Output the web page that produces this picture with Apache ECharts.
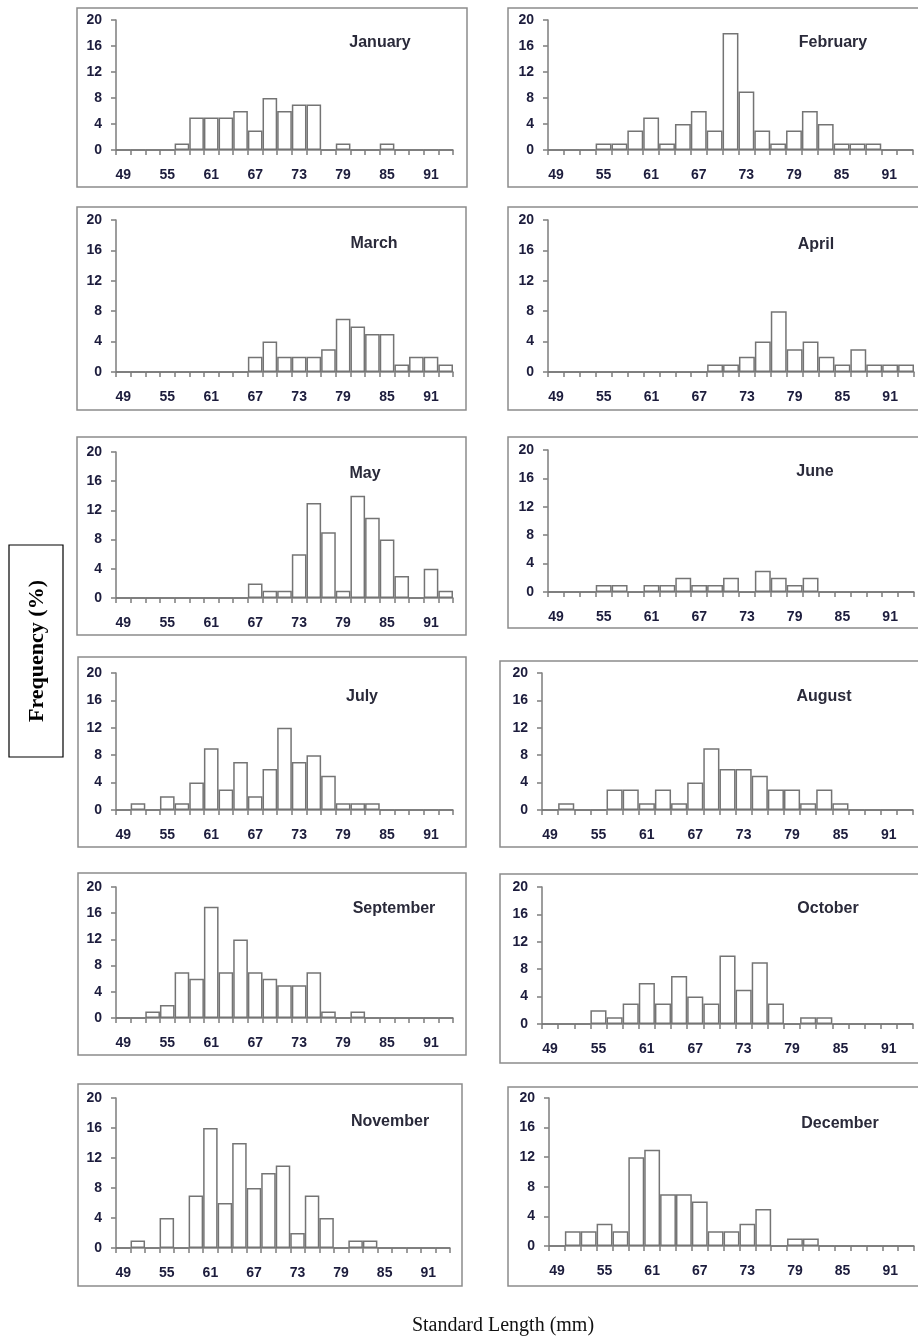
<!DOCTYPE html>
<html>
<head>
<meta charset="utf-8">
<script src="https://cdn.jsdelivr.net/npm/echarts@6/dist/echarts.min.js"></script>
<style>
html,body{margin:0;padding:0;background:#fff;}
#c{width:918px;height:1339px;}
</style>
</head>
<body>
<div id="c"></div>
<script>
// ---- DATA ----
const categories = ['49','51','53','55','57','59','61','63','65','67','69','71','73','75','77','79','81','83','85','87','89','91','93'];
const yTicks = [0, 4, 8, 12, 16, 20];
const months = ['January','February','March','April','May','June','July','August','September','October','November','December'];
const january   = [0,0,0,0,1,5,5,5,6,3,8,6,7,7,0,1,0,0,1,0,0,0,0];
const february  = [0,0,0,1,1,3,5,1,4,6,3,18,9,3,1,3,6,4,1,1,1,0,0];
const march     = [0,0,0,0,0,0,0,0,0,2,4,2,2,2,3,7,6,5,5,1,2,2,1];
const april     = [0,0,0,0,0,0,0,0,0,0,1,1,2,4,8,3,4,2,1,3,1,1,1];
const may       = [0,0,0,0,0,0,0,0,0,2,1,1,6,13,9,1,14,11,8,3,0,4,1];
const june      = [0,0,0,1,1,0,1,1,2,1,1,2,0,3,2,1,2,0,0,0,0,0,0];
const july      = [0,1,0,2,1,4,9,3,7,2,6,12,7,8,5,1,1,1,0,0,0,0,0];
const august    = [0,1,0,0,3,3,1,3,1,4,9,6,6,5,3,3,1,3,1,0,0,0,0];
const september = [0,0,1,2,7,6,17,7,12,7,6,5,5,7,1,0,1,0,0,0,0,0,0];
const october   = [0,0,0,2,1,3,6,3,7,4,3,10,5,9,3,0,1,1,0,0,0,0,0];
const november  = [0,1,0,4,0,7,16,6,14,8,10,11,2,7,4,0,1,1,0,0,0,0,0];
const december  = [0,2,2,3,2,12,13,7,7,6,2,2,3,5,0,1,1,0,0,0,0,0,0];
const seriesData = [january,february,march,april,may,june,july,august,september,october,november,december];
const yLabel = 'Frequency (%)';
const xLabel = 'Standard Length (mm)';

// ---- LAYOUT (positions only) ----
// plot area: [left, right, top(=20), bottom(=0)], box: [x1,y1,x2,y2], title: [x,y]
const layout = [
  {g:[116,453,20,150],  b:[77,8,467,187],     t:[380,43]},
  {g:[548,913,20,150],  b:[508,8,925,187],    t:[833,43]},
  {g:[116,453,220,372], b:[77,207,466,410],   t:[374,244]},
  {g:[548,914,220,372], b:[508,207,925,410],  t:[816,245]},
  {g:[116,453,452,598], b:[77,437,466,635],   t:[365,474]},
  {g:[548,914,450,592], b:[508,437,925,628],  t:[815,472]},
  {g:[116,453,673,810], b:[78,657,466,847],   t:[362,697]},
  {g:[542,913,673,810], b:[500,661,925,847],  t:[824,697]},
  {g:[116,453,887,1018],b:[78,873,466,1055],  t:[394,909]},
  {g:[542,913,887,1024],b:[500,874,925,1063], t:[828,909]},
  {g:[116,450,1098,1248],b:[78,1084,462,1286],t:[390,1122]},
  {g:[549,914,1098,1246],b:[508,1087,925,1286],t:[840,1124]}
];

const W = 918, H = 1339;
const axisColor = '#858585';
const labelColor = '#1c1c3c';
const labelFont = {fontFamily:'Liberation Sans', fontWeight:'bold', fontSize:14, color:labelColor};

const grids = [], xAxes = [], yAxes = [], series = [], graphics = [];
layout.forEach((L, i) => {
  grids.push({left:L.g[0], right:W - L.g[1], top:L.g[2], height:L.g[3]-L.g[2], containLabel:false});
  xAxes.push({
    type:'category', gridIndex:i, data:categories, boundaryGap:true,
    axisLine:{show:true, lineStyle:{color:axisColor, width:1.6}},
    axisTick:{show:true, interval:0, length:5, alignWithLabel:false, lineStyle:{color:axisColor, width:1.6}},
    axisLabel:Object.assign({interval:2, margin:18}, labelFont),
    splitLine:{show:false}
  });
  yAxes.push({
    type:'value', gridIndex:i, min:yTicks[0], max:yTicks[yTicks.length-1], interval:yTicks[1]-yTicks[0],
    axisLine:{show:true, lineStyle:{color:axisColor, width:1.6}},
    axisTick:{show:true, length:5, lineStyle:{color:axisColor, width:1.6}},
    axisLabel:Object.assign({margin:14}, labelFont),
    splitLine:{show:false}
  });
  series.push({
    type:'bar', xAxisIndex:i, yAxisIndex:i, data:seriesData[i],
    barCategoryGap:'0%', barGap:'0%',
    itemStyle:{color:'#ffffff', borderColor:'#747474', borderWidth:1.5},
    emphasis:{disabled:true}, silent:true, z:3
  });
  graphics.push({
    type:'rect', shape:{x:L.b[0], y:L.b[1], width:L.b[2]-L.b[0], height:L.b[3]-L.b[1]},
    style:{fill:'none', stroke:'#8c8c8c', lineWidth:1.5}, z:1, silent:true
  });
  graphics.push({
    type:'text', x:L.t[0], y:L.t[1],
    style:{text:months[i], align:'center', verticalAlign:'middle', fontFamily:'Liberation Sans', fontWeight:'bold', fontSize:16, fill:'#2a2a3a'},
    z:5, silent:true
  });
});

// y-axis title box
graphics.push({
  type:'rect', shape:{x:9, y:545, width:54, height:212},
  style:{fill:'none', stroke:'#000', lineWidth:1.2}, z:1, silent:true
});
graphics.push({
  type:'text', x:37, y:651, rotation:Math.PI/2,
  style:{text:yLabel, align:'center', verticalAlign:'middle', fontFamily:'Liberation Serif', fontWeight:'bold', fontSize:22, fill:'#000'},
  z:5, silent:true
});
graphics.push({
  type:'text', x:503, y:1326,
  style:{text:xLabel, align:'center', verticalAlign:'middle', fontFamily:'Liberation Serif', fontWeight:'normal', fontSize:20, fill:'#111'},
  z:5, silent:true
});

const chart = echarts.init(document.getElementById('c'), null, {renderer:'canvas', width:W, height:H});
chart.setOption({
  animation:false,
  backgroundColor:'#ffffff',
  grid:grids, xAxis:xAxes, yAxis:yAxes, series:series,
  graphic:{elements:graphics}
});
</script>
</body>
</html>
